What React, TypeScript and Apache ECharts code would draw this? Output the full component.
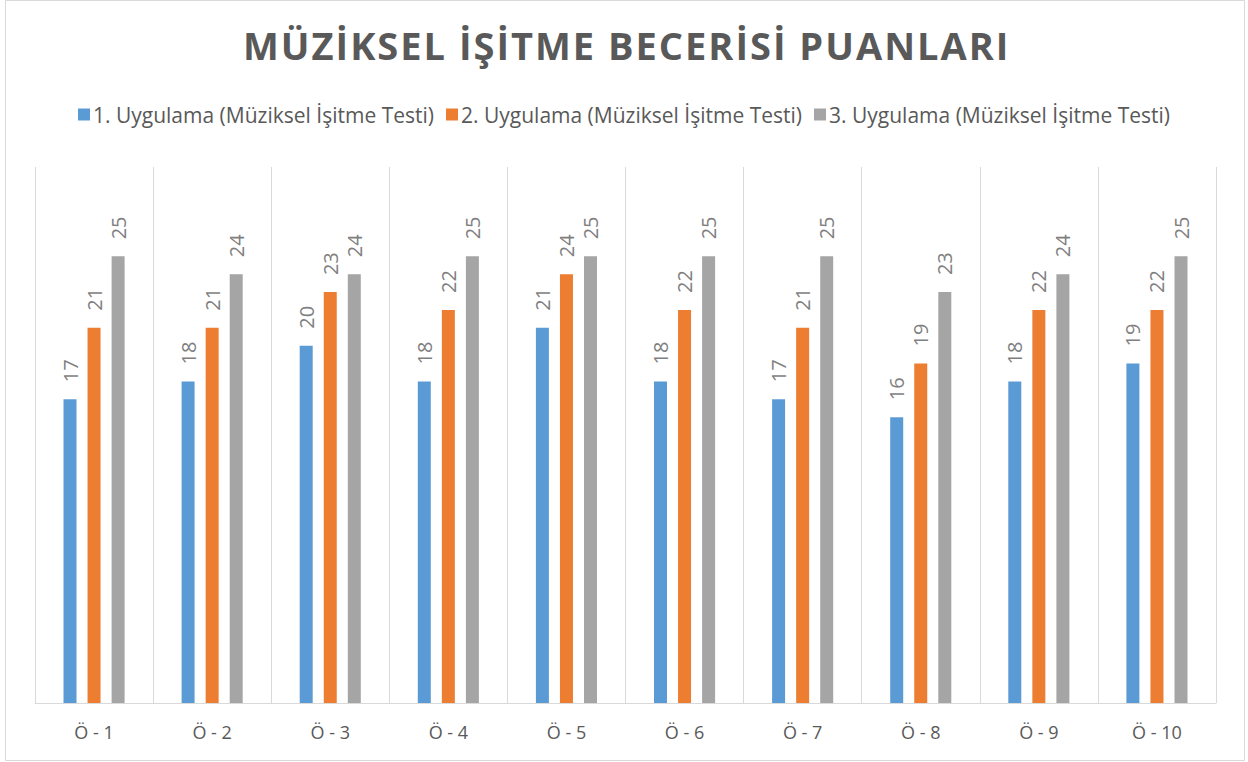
import React, { useEffect, useRef } from "react";
import * as echarts from "echarts";

const categories = ["Ö - 1", "Ö - 2", "Ö - 3", "Ö - 4", "Ö - 5", "Ö - 6", "Ö - 7", "Ö - 8", "Ö - 9", "Ö - 10"];
const seriesNames = [
  "1. Uygulama (Müziksel İşitme Testi)",
  "2. Uygulama (Müziksel İşitme Testi)",
  "3. Uygulama (Müziksel İşitme Testi)",
];
const values1 = [17, 18, 20, 18, 21, 18, 17, 16, 18, 19];
const values2 = [21, 21, 23, 22, 24, 22, 21, 19, 22, 22];
const values3 = [25, 24, 24, 25, 25, 25, 25, 23, 24, 25];
const colors = ["#5B9BD5", "#ED7D31", "#A5A5A5"];
const titleText = "MÜZİKSEL İŞİTME BECERİSİ PUANLARI";

export default function App() {
  const ref = useRef<HTMLDivElement>(null);
  useEffect(() => {
    if (!ref.current) return;
    const chart = echarts.init(ref.current, undefined, { renderer: "svg" });
    const font = "Open Sans, sans-serif";
    const all = [values1, values2, values3];
    chart.setOption({
      animation: false,
      backgroundColor: "#ffffff",
      title: {
        text: titleText,
        left: 238,
        top: 21,
        textStyle: {
          fontFamily: font,
          fontWeight: "bold",
          fontSize: 38,
          color: "#595959",
        },
      },
      legend: {
        top: 99,
        left: "center",
        itemWidth: 12,
        itemHeight: 12,
        itemGap: 12,
        icon: "rect",
        textStyle: { fontFamily: font, fontSize: 21, color: "#595959", padding: [0, 0, 0, -2] },
        data: seriesNames,
      },
      graphic: [
        {
          type: "rect",
          shape: { x: 5.5, y: 0.5, width: 1239, height: 760 },
          style: { fill: "none", stroke: "#d9d9d9", lineWidth: 1 },
          silent: true,
        },
      ],
      grid: { left: 35, right: 32, top: 167, bottom: 59, containLabel: false },
      xAxis: {
        type: "category",
        data: categories,
        axisTick: { show: false },
        axisLine: { lineStyle: { color: "#d9d9d9", width: 1 } },
        axisLabel: { fontFamily: font, fontSize: 18, color: "#595959", margin: 20 },
        splitLine: { show: true, lineStyle: { color: "#d9d9d9", width: 1 } },
      },
      yAxis: {
        type: "value",
        min: 0,
        max: 30,
        show: false,
        splitLine: { show: false },
      },
      series: all.map((vals, i) => ({
        name: seriesNames[i],
        type: "bar",
        data: vals,
        barWidth: 13,
        barGap: "85%",
        itemStyle: { color: colors[i] },
        label: {
          show: true,
          position: "top",
          rotate: 90,
          align: "left",
          verticalAlign: "middle",
          distance: 17,
          fontFamily: font,
          fontSize: 20,
          color: "#7F7F7F",
        },
      })),
    });
    return () => chart.dispose();
  }, []);
  return (
    <>
      <style>{`svg text[style*="38px"] { letter-spacing: 2px; }`}</style>
      <div
        ref={ref}
        style={{ position: "absolute", left: 0, top: 0, width: 1248, height: 762 }}
      />
    </>
  );
}
